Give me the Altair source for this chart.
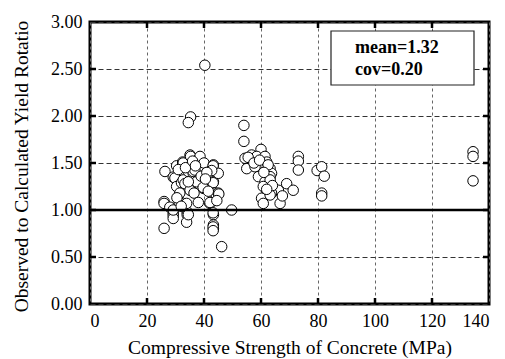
import altair as alt
import pandas as pd

# Observed data: compressive strength (MPa) and observed/calculated yield rotation
fc = [26.3, 26.0, 26.0, 26.0, 28.0, 29.2, 29.8, 30.4, 30.4, 31.6, 31.3,
      29.2, 29.2, 29.2, 29.2, 32.5, 32.7, 32.1, 32.7, 33.3,
      34.1, 34.1, 33.9, 34.5, 35.1, 35.3, 35.4, 35.1, 34.5, 36.2, 36.2,
      35.3, 34.5, 37.4, 38.3, 38.6, 38.0, 38.2, 39.8, 39.7, 40.0, 40.3,
      42.1, 42.1, 43.3, 43.2, 43.3, 43.2, 43.8, 43.9, 43.3, 43.2, 43.3, 43.3,
      43.2, 43.2, 45.0, 45.0, 45.2, 46.2, 49.7,
      36.8, 42.7, 33.9, 31.0, 33.5, 36.0, 37.0, 39.0, 41.0, 40.5, 36.5,
      31.5, 30.5, 41.5, 34.5, 38.0, 32.0, 44.5,
      54.0, 54.0, 60.0, 54.4, 56.7, 58.5, 61.4, 62.0, 55.0, 57.9, 63.2,
      63.7, 63.2, 59.1, 61.4, 63.2, 69.0, 71.3, 66.1, 63.7, 60.8, 60.2,
      60.8, 66.7, 63.2, 73.1, 73.1, 73.1, 55.5, 57.5, 59.5, 62.5, 61.0,
      64.0, 62.0, 67.5,
      79.7, 81.3, 82.2, 81.3, 81.3, 134.4, 134.4, 134.4]
ratio = [1.41, 1.09, 1.07, 0.805, 1.03, 1.35, 1.34, 1.47, 1.25, 1.09, 1.08,
         0.965, 0.94, 0.91, 1.00, 1.51, 1.50, 1.29, 1.32, 1.28,
         0.98, 0.95, 0.87, 0.95, 1.585, 1.57, 1.21, 1.21, 1.41, 1.39, 1.41,
         1.99, 1.93, 1.30, 1.55, 1.57, 1.44, 1.43, 1.23, 1.24, 1.50, 2.54,
         1.07, 1.08, 1.48, 1.47, 1.30, 1.29, 1.18, 1.18, 0.95, 0.97, 0.84, 0.80,
         0.82, 0.78, 1.39, 1.18, 1.17, 0.61, 1.00,
         1.425, 1.42, 1.07, 1.43, 1.45, 1.52, 1.47, 1.36, 1.40, 1.33, 1.18,
         1.18, 1.13, 1.20, 1.30, 1.08, 1.04, 1.10,
         1.90, 1.73, 1.645, 1.55, 1.585, 1.57, 1.57, 1.51, 1.44, 1.46, 1.44,
         1.39, 1.355, 1.355, 1.30, 1.32, 1.28, 1.21, 1.21, 1.18, 1.25, 1.125,
         1.07, 1.07, 1.16, 1.57, 1.52, 1.425, 1.56, 1.50, 1.53, 1.48, 1.40,
         1.26, 1.22, 1.15,
         1.42, 1.46, 1.36, 1.18, 1.15, 1.62, 1.57, 1.31]

x_ticks = [0, 20, 40, 60, 80, 100, 120, 140]
y_ticks = [0.0, 0.5, 1.0, 1.5, 2.0, 2.5, 3.0]
x_inner = [20, 40, 60, 80, 100, 120]
y_inner = [0.5, 1.0, 1.5, 2.0, 2.5]
stats_lines = ["mean=1.32", "cov=0.20"]
ref_value = [1.0]

W, H = 399, 282
FONT = "Liberation Serif"

xs = alt.Scale(domain=[0, 140], nice=False, zero=False)
ys = alt.Scale(domain=[0, 3], nice=False, zero=False)

x_axis = alt.Axis(values=x_ticks, ticks=False, domain=False, labelPadding=8,
                  labelFontSize=18, labelFont=FONT, labelColor="black",
                  title="Compressive Strength of Concrete (MPa)",
                  titleFontSize=19.5, titleFont=FONT, titleFontWeight="normal",
                  titleColor="black", titleBaseline="alphabetic", titleY=49,
                  grid=True, gridColor="#666666", gridDash=[3, 3], gridWidth=1,
                  gridOpacity=1)
y_axis = alt.Axis(values=y_ticks, ticks=False, domain=False, labelPadding=8,
                  format=".2f", labelFontSize=18, labelFont=FONT, labelColor="black",
                  title="Observed to Calculated Yield Rotatio",
                  titleFontSize=19.5, titleFont=FONT, titleFontWeight="normal",
                  titleColor="black", titleAngle=-90, titleBaseline="alphabetic",
                  titleAlign="center", titleX=-63, titleY=144,
                  grid=True, gridColor="#333333", gridDash=[5, 3], gridWidth=1,
                  gridOpacity=1)

X = lambda f: alt.X(f, type="quantitative", scale=xs, axis=x_axis)
Y = lambda f: alt.Y(f, type="quantitative", scale=ys, axis=y_axis)

df = pd.DataFrame({"x": fc, "y": ratio})
points = alt.Chart(df).mark_point(
    shape="circle", filled=True, fill="white", stroke="black",
    strokeWidth=1, size=110, opacity=1
).encode(x=X("x"), y=Y("y"))

ref = alt.Chart(pd.DataFrame({"y": ref_value})).mark_rule(
    color="black", strokeWidth=2.5
).encode(y=Y("y"))

tx = pd.DataFrame({"x": x_inner})
ty = pd.DataFrame({"y": y_inner})
tick_b = alt.Chart(tx).mark_rule(color="black", strokeWidth=2.5).encode(
    x=X("x"), y=alt.value(H), y2=alt.value(H - 6))
tick_t = alt.Chart(tx).mark_rule(color="black", strokeWidth=2.5).encode(
    x=X("x"), y=alt.value(0), y2=alt.value(6))
tick_l = alt.Chart(ty).mark_rule(color="black", strokeWidth=2.5).encode(
    y=Y("y"), x=alt.value(0), x2=alt.value(6))
tick_r = alt.Chart(ty).mark_rule(color="black", strokeWidth=2.5).encode(
    y=Y("y"), x=alt.value(W), x2=alt.value(W - 6))

box = alt.Chart(pd.DataFrame({"k": [0]})).mark_rect(
    fill="white", stroke="#222222", strokeWidth=1.2
).encode(x=alt.value(241), x2=alt.value(384), y=alt.value(9), y2=alt.value(63))

stats_df = pd.DataFrame({"t": stats_lines, "py": [31, 53]})
stats = alt.Chart(stats_df).mark_text(
    align="left", baseline="alphabetic", font=FONT, fontSize=18,
    fontWeight="bold", color="black"
).encode(text="t:N", x=alt.value(265), y=alt.Y("py:Q", scale=None, axis=None))

chart = alt.layer(
    points, ref, tick_b, tick_t, tick_l, tick_r, box, stats
).properties(
    width=W, height=H,
    autosize="none",
    padding={"left": 82, "top": 14, "right": 8, "bottom": 55},
    background="white",
).configure_view(stroke="black", strokeWidth=3)

chart.save("out.html", embed_options={"renderer": "svg", "actions": False})
